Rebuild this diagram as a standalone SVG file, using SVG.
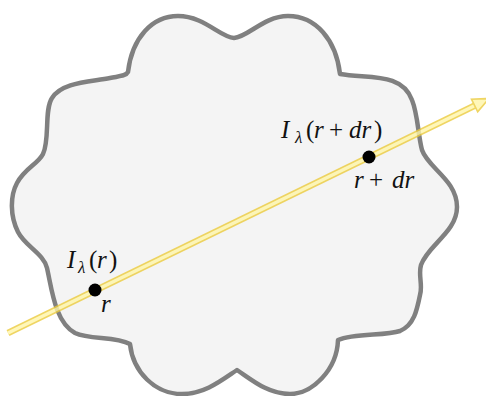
<svg xmlns="http://www.w3.org/2000/svg" width="486" height="396" viewBox="0 0 486 396">
<style>
.cloud{fill:#f4f4f4;stroke:#808080;stroke-width:4.5;stroke-linejoin:round}
.ray-o{fill:none;stroke:#eccb3c;stroke-width:6.5}
.ray-i{fill:none;stroke:#fff6a8;stroke-width:3.5}
.head{fill:#fff6a8;stroke:#eccb3c;stroke-width:1.6;stroke-linejoin:miter}
.dot{fill:#000}
.m{font-family:"Liberation Serif","DejaVu Serif",serif;font-size:25px;fill:#111}
.it{font-style:italic}
.sub{font-size:17px;font-style:italic}
</style>
<g id="cloud">
<path class="cloud" d="M 128,72 C 132,38 152,16 178,16 C 204,16 220,37 234,38 C 248,37 264,16 288,16 C 316,16 336,40 340,74 C 368,79 402,72 412,100 C 418,115 418,135 422,150 C 428,168 457,180 457,207 C 457,232 428,245 421,265 C 418,275 423,285 420,295 C 417,310 414,325 400,331 C 385,336 355,333 338,340 C 337,370 312,394 290,394 C 268,394 252,380 237,370 C 222,380 205,394 182,394 C 155,394 133,372 130,344 C 115,336 90,340 75,333 C 55,322 52,290 47,268 C 44,254 25,246 18,232 C 10,216 10,196 17,183 C 25,168 38,164 43,154 C 50,140 44,110 52,98 C 62,82 90,82 110,78 C 120,76 126,76 128,72 Z"/>
</g>
<g id="connectors" opacity="0.8">
<path class="ray-o" d="M 8,333 L 476,105"/>
<path class="ray-i" d="M 8,333 L 476,105"/>
<polygon class="head" points="489,98.5 471.5,99.2 477.7,111.8"/>
</g>
<g id="point-r">
<circle class="dot" cx="95" cy="290" r="6.5"/>
<text class="m"><tspan class="it" x="67" y="268">I</tspan><tspan class="sub" x="78" y="273">λ</tspan><tspan x="89" y="268">(</tspan><tspan class="it" x="97" y="268">r</tspan><tspan x="109" y="268">)</tspan></text>
<text class="m it" x="101" y="312">r</text>
</g>
<g id="point-rdr">
<circle class="dot" cx="369" cy="157" r="6.5"/>
<text class="m"><tspan class="it" x="281" y="138">I</tspan><tspan class="sub" x="295" y="143">λ</tspan><tspan x="306" y="138">(</tspan><tspan class="it" x="314" y="138">r</tspan><tspan x="329" y="138">+</tspan><tspan class="it" x="349" y="138">dr</tspan><tspan x="374" y="138">)</tspan></text>
<text class="m"><tspan class="it" x="354" y="188">r</tspan><tspan x="369" y="188">+</tspan><tspan class="it" x="392" y="188">dr</tspan></text>
</g>
</svg>
